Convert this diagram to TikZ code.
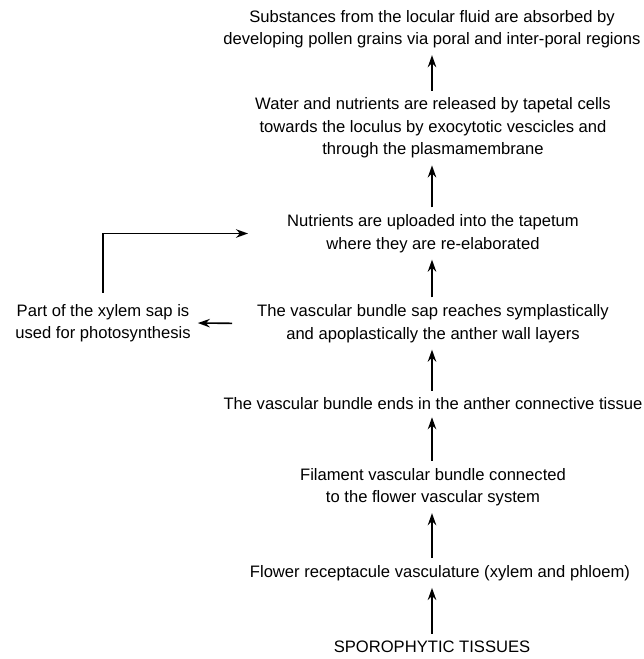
\documentclass[tikz,border=0pt]{standalone}
\usepackage{fontspec}
\setmainfont{Liberation Sans}
\usepackage{tikz}
\usetikzlibrary{positioning,arrows.meta}

\begin{document}
\begin{tikzpicture}[
    x=1pt, y=1pt,
    >={Stealth[length=12pt,width=8.5pt]},
    every node/.style={align=center, inner sep=3pt,
        font=\fontsize{16.6}{22.5}\selectfont},
    flow/.style={->, line width=1.6pt, shorten <=4pt, shorten >=4pt}
]
\useasboundingbox (0,0) rectangle (644,-659);

\node (tissues) at (432,-647) {SPOROPHYTIC TISSUES};
\node (recept) at (440,-573) {Flower receptacule vasculature (xylem and phloem)};
\node (filament) at (433,-487) {Filament vascular bundle connected\\to the flower vascular system};
\node (ends) at (433,-404) {The vascular bundle ends in the anther connective tissue};
\node (sap) at (433,-323.5) {The vascular bundle sap reaches symplastically\\and apoplastically the anther wall layers};
\node (upload) at (433,-233.5) {Nutrients are uploaded into the tapetum\\where they are re-elaborated};
\node (release) at (433,-128) {Water and nutrients are released by tapetal cells\\towards the loculus by exocytotic vescicles and\\through the plasmamembrane};
\node (absorb) at (432,-29) {Substances from the locular fluid are absorbed by\\developing pollen grains via poral and inter-poral regions};
\node (photo) at (103,-323) {Part of the xylem sap is\\used for photosynthesis};

\draw[flow] (tissues.north -| 432,0) -- (recept.south -| 432,0);
\draw[flow] (recept.north -| 432,0) -- (filament.south -| 432,0);
\draw[flow] (filament.north -| 432,0) -- (ends.south -| 432,0);
\draw[flow] (ends.north -| 432,0) -- (sap.south -| 432,0);
\draw[flow] (sap.north -| 432,0) -- (upload.south -| 432,0);
\draw[flow] (upload.north -| 432,0) -- (release.south -| 432,0);
\draw[flow] (release.north -| 432,0) -- (absorb.south -| 432,0);

\draw[flow, shorten <=22pt] (sap.west) -- (photo.east);
\draw[flow, shorten <=8pt, shorten >=36pt] (photo.north) |- (upload.west);

\end{tikzpicture}
\end{document}
